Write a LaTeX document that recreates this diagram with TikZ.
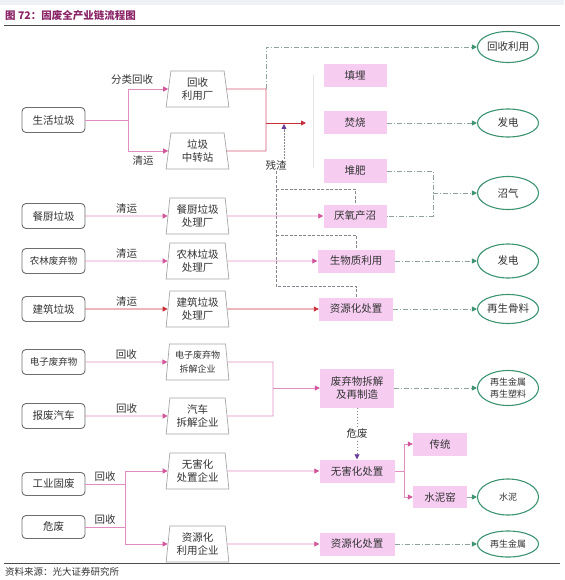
\documentclass[tikz,border=0pt]{standalone}
\usepackage{fontspec}
\setmainfont{Noto Sans CJK SC}
\usetikzlibrary{shapes.geometric,arrows.meta,calc}
\definecolor{pinkln}{HTML}{E08DC0}
\definecolor{pinktip}{HTML}{D2569A}
\definecolor{redln}{HTML}{C8303C}
\definecolor{pboxfill}{HTML}{F6CDF1}
\definecolor{ellgreen}{HTML}{3C9470}
\definecolor{dashgray}{HTML}{8FA39A}
\definecolor{resgray}{HTML}{8A8290}
\definecolor{purpletip}{HTML}{6A3C9A}
\definecolor{titlecol}{HTML}{8A2466}
\definecolor{txt}{HTML}{333333}
\definecolor{srcborder}{HTML}{6E6E6E}
\definecolor{bandcol}{HTML}{EEF1F5}
\tikzset{
  srcbox/.style={draw=srcborder, line width=0.9pt, rounded corners=4pt, fill=white,
    minimum width=63pt, minimum height=25pt, inner sep=0pt,
    font=\fontsize{10.5}{12}\selectfont, text=txt},
  plant/.style={trapezium, trapezium stretches=true, trapezium left angle=83,
    trapezium right angle=83, draw=gray!70, line width=0.7pt, fill=white,
    minimum width=63pt, minimum height=36pt, inner sep=0pt, align=center,
    font=\fontsize{10.5}{13.5}\selectfont, text=txt},
  proc/.style={fill=pboxfill, draw=none, minimum width=63pt, minimum height=23pt,
    inner sep=0pt, align=center, font=\fontsize{10.5}{13.5}\selectfont, text=txt},
  outc/.style={ellipse, draw=ellgreen, line width=1.1pt, fill=white,
    minimum width=61pt, minimum height=31pt, inner sep=0pt, align=center,
    font=\fontsize{10.5}{12}\selectfont, text=txt},
  flow/.style={draw=pinkln, line width=0.8pt},
  flowarr/.style={flow, -{Triangle[length=5pt,width=5pt,color=pinktip]}},
  redflow/.style={draw=redln, line width=0.9pt},
  redarr/.style={redflow, -{Triangle[length=5pt,width=5pt]}},
  gdash/.style={draw=dashgray, line width=0.8pt, dash pattern=on 5pt off 2pt on 1pt off 2pt},
  garr/.style={gdash, -{Triangle[length=5pt,width=5pt,color=ellgreen]}},
  resid/.style={draw=resgray, line width=0.7pt, dash pattern=on 3pt off 1.5pt},
  purparr/.style={draw=resgray, line width=0.8pt, dash pattern=on 1.5pt off 1.5pt,
    -{Triangle[length=5pt,width=5pt,color=purpletip]}},
  lbl/.style={font=\fontsize{10.5}{12}\selectfont, text=txt, inner sep=1pt},
}
\begin{document}
\begin{tikzpicture}[x=1pt,y=-1pt]
\useasboundingbox (0,0) rectangle (564,580);
\fill[bandcol] (0,0) rectangle (564,5);

% title and rules
\node[anchor=west, font=\bfseries\fontsize{10.5}{12}\selectfont, text=titlecol, inner sep=0pt] (title) at (5,16) {图 72：固废全产业链流程图};
\coordinate (tl) at (4,25); \coordinate (tr) at (560,25);
\draw[gray!60!black, line width=0.8pt] (tl) -- (tr);
\coordinate (bl) at (4,563); \coordinate (brr) at (560,563);
\draw[gray!60!black, line width=0.8pt] (bl) -- (brr);
\node[anchor=west, font=\fontsize{9.5}{11}\selectfont, text=txt, inner sep=0pt] (source) at (5,572) {资料来源：光大证券研究所};

% sources
\node[srcbox] (s1) at (53.5,120) {生活垃圾};
\node[srcbox] (s2) at (53.5,216) {餐厨垃圾};
\node[srcbox, font=\fontsize{9.5}{12}\selectfont] (s3) at (53.5,261) {农林废弃物};
\node[srcbox] (s4) at (53.5,309) {建筑垃圾};
\node[srcbox, font=\fontsize{9.5}{12}\selectfont] (s5) at (53.5,362) {电子废弃物};
\node[srcbox] (s6) at (53.5,416) {报废汽车};
\node[srcbox, minimum height=23pt] (s7) at (53.5,484) {工业固废};
\node[srcbox, minimum height=23pt] (s8) at (53.5,527) {危废};

% plants
\node[plant] (t1) at (197.5,89) {回收\\利用厂};
\node[plant] (t2) at (197.5,151) {垃圾\\中转站};
\node[plant] (t3) at (197.5,216) {餐厨垃圾\\处理厂};
\node[plant] (t4) at (197.5,261) {农林垃圾\\处理厂};
\node[plant] (t5) at (197.5,309) {建筑垃圾\\处理厂};
\node[plant, font=\fontsize{9}{13.5}\selectfont] (t6) at (197.5,362) {电子废弃物\\拆解企业};
\node[plant] (t7) at (197.5,416) {汽车\\拆解企业};
\node[plant] (t8) at (197.5,471) {无害化\\处置企业};
\node[plant] (t9) at (197.5,544) {资源化\\利用企业};

% processes
\node[proc] (p1) at (355,76) {填埋};
\node[proc] (p2) at (355,123) {焚烧};
\node[proc] (p3) at (355,171) {堆肥};
\node[proc] (p4) at (355,216) {厌氧产沼};
\node[proc, minimum width=77pt] (p5) at (356,261) {生物质利用};
\node[proc, minimum width=74pt] (p6) at (356,309) {资源化处置};
\node[proc, minimum width=74pt, minimum height=39pt] (p7) at (357,388) {废弃物拆解\\及再制造};
\node[proc, minimum width=75pt] (p8) at (357,471) {无害化处置};
\node[proc, minimum width=54pt] (p9) at (440,444) {传统};
\node[proc, minimum width=54pt, minimum height=22pt] (p10) at (440,497) {水泥窑};
\node[proc, minimum width=75pt] (p11) at (357,544) {资源化处置};

% outcomes
\node[outc] (e1) at (508,47) {回收利用};
\node[outc, minimum height=28pt] (e2) at (508,123) {发电};
\node[outc, minimum height=33pt] (e3) at (508,193) {沼气};
\node[outc, minimum height=34pt] (e4) at (508,261) {发电};
\node[outc, minimum height=29pt] (e5) at (508,309) {再生骨料};
\node[outc, minimum height=35pt, font=\fontsize{9}{11.5}\selectfont] (e6) at (508,388) {再生金属\\再生塑料};
\node[outc, minimum height=36pt, font=\fontsize{9}{11}\selectfont] (e7) at (508,497) {水泥};
\node[outc, minimum height=26pt, font=\fontsize{9}{11}\selectfont] (e8) at (508,544) {再生金属};

% row 1: household waste
\coordinate (j1) at (128,120);
\draw[flow] (s1) -- (j1);
\draw[flowarr] (j1) |- (t1);
\draw[flowarr] (j1) |- (t2);
\node[lbl] (l1) at (132,80) {分类回收};
\node[lbl] (l2) at (143,161) {清运};
\coordinate (j2a) at (266,89);
\coordinate (j2b) at (266,151);
\coordinate (j2m) at (266,123);
\coordinate (br) at (306,123);
\draw[redflow, draw=redln!55!pinkln] (t1) -- (j2a) -- (j2b) -- (t2);
\draw[redarr] (j2m) -- (br);
\coordinate (bt) at (313,75); \coordinate (bb) at (313,168);
\draw[gray!20, line width=0.8pt] (bt) -- (bb);
\draw[garr] (j2a) |- (e1);

% residue
\node[lbl] (zz) at (276,165) {残渣};
\draw[purparr, shorten >=1pt] ([xshift=8pt]zz.north) -- ([xshift=8pt]zz.north |- j2m);
\coordinate (r4) at (276,189);
\coordinate (r5) at (276,235);
\coordinate (r6) at (276,286);
\draw[resid] (zz.south) -- (r6) -| (p6.north);
\draw[resid] (r4) -| (p4.north);
\draw[resid] (r5) -| (p5.north);

% green outputs
\draw[garr] (p2) -- (e2);
\coordinate (k1) at (433,171);
\coordinate (k2) at (433,216);
\coordinate (k3) at (433,193);
\draw[gdash] (p3) -- (k1) -- (k2) -- (p4);
\draw[garr] (k3) -- (e3);
\draw[garr] (p5) -- (e4);
\draw[garr] (p6) -- (e5);
\draw[garr] (p7) -- (e6);
\draw[garr] (p10) -- (e7);
\draw[garr] (p11) -- (e8);

% rows 2-4
\draw[flowarr] (s2) -- node[lbl, above=1pt] {清运} (t3);
\draw[flowarr] (t3) -- (p4);
\draw[flowarr] (s3) -- node[lbl, above=1pt] {清运} (t4);
\draw[flowarr] (t4) -- (p5);
\draw[redarr] (s4) -- node[lbl, above=1pt] {清运} (t5);
\draw[redarr] (t5) -- (p6);

% rows 5-6
\draw[flowarr] (s5) -- node[lbl, above=1pt] {回收} (t6);
\draw[flowarr] (s6) -- node[lbl, above=1pt] {回收} (t7);
\coordinate (j3a) at (273,362);
\coordinate (j3b) at (273,416);
\coordinate (j3m) at (273,388);
\draw[flow] (t6) -- (j3a) -- (j3b) -- (t7);
\draw[flowarr] (j3m) -- (p7);
\draw[purparr] (p7) -- node[lbl, fill=white, inner sep=2pt] {危废} (p8);

% rows 7-8
\coordinate (j4a) at (125,484);
\coordinate (j4b) at (125,527);
\draw[flow] (s7) -- node[lbl, above=1pt] {回收} (j4a);
\draw[flow] (s8) -- node[lbl, above=1pt] {回收} (j4b);
\draw[flow] (j4a) -- (j4b);
\draw[flowarr] (j4a) |- (t8);
\draw[flowarr] (j4b) |- (t9);
\draw[flowarr] (t8) -- (p8);
\coordinate (j5) at (404,471);
\draw[flow] (p8) -- (j5);
\draw[flowarr] (j5) |- (p9);
\draw[flowarr] (j5) |- (p10);
\draw[flowarr] (t9) -- (p11);
\end{tikzpicture}
\end{document}
